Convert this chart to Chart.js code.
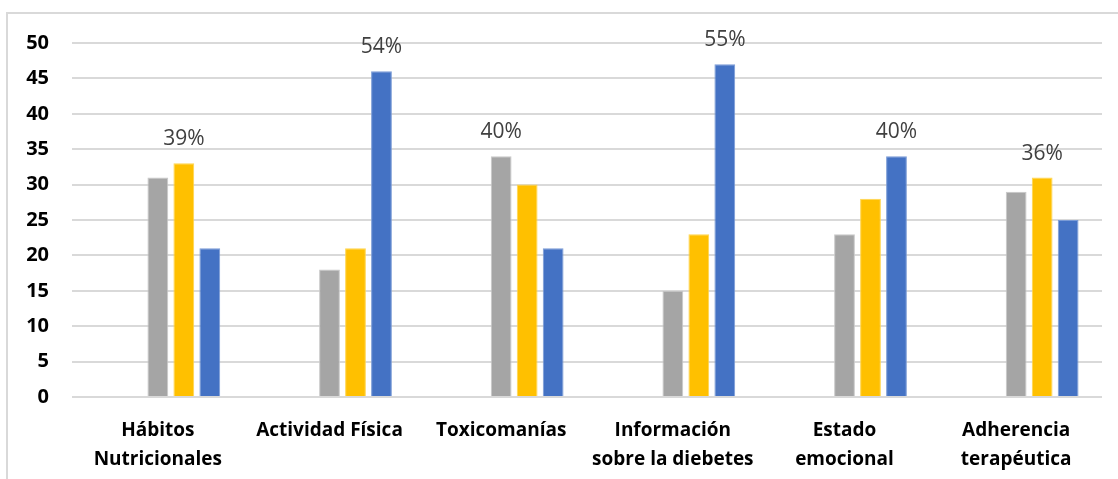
<!DOCTYPE html>
<html>
<head>
<meta charset="utf-8">
<script src="https://cdn.jsdelivr.net/npm/chart.js@4.4.1/dist/chart.umd.min.js"></script>
<style>
  html, body { margin: 0; padding: 0; background: #fff; }
  #wrap { position: relative; width: 1118px; height: 479px; }
  #frame {
    position: absolute; left: 6px; top: 12px; right: 0; bottom: 0;
    border-left: 2px solid #D9D9D9; border-top: 2px solid #D9D9D9;
  }
  canvas { position: absolute; left: 0; top: 0; }
</style>
</head>
<body>
<div id="wrap">
  <div id="frame"></div>
  <canvas id="chart" width="1118" height="479"></canvas>
</div>
<script>
// Categories (multi-line labels)
const categories = [
    ['Hábitos', 'Nutricionales'],
    'Actividad Física',
    'Toxicomanías',
    ['Información', 'sobre la diebetes'],
    ['Estado', 'emocional'],
    ['Adherencia', 'terapéutica']
];

// Series values
const seriesGray = [31, 18, 34, 15, 23, 29];
const seriesYellow = [33, 21, 30, 23, 28, 31];
const seriesBlue = [21, 46, 21, 47, 34, 25];
// Two empty series keep the visible bars in the right half of each group
const seriesEmpty = [0, 0, 0, 0, 0, 0];

// Percentage shown above the tallest bar of each category
const percentLabels = ['39%', '54%', '40%', '55%', '40%', '36%'];

const yTicks = [0, 5, 10, 15, 20, 25, 30, 35, 40, 45, 50];

// Draws the percentage above the highest bar in each group
const topLabelPlugin = {
    id: 'topLabel',
    afterDatasetsDraw(chart) {
        const ctx = chart.ctx;
        ctx.save();
        ctx.font = '21px "Open Sans"';
        ctx.fillStyle = '#404040';
        ctx.textAlign = 'center';
        ctx.textBaseline = 'alphabetic';
        categories.forEach((c, i) => {
            let best = -1, bestVal = -Infinity;
            chart.data.datasets.forEach((ds, d) => {
                if (ds.data[i] > bestVal) { bestVal = ds.data[i]; best = d; }
            });
            const bar = chart.getDatasetMeta(best).data[i];
            ctx.fillText(percentLabels[i], bar.x, bar.y - 18);
        });
        ctx.restore();
    }
};

const ctx = document.getElementById('chart').getContext('2d');
new Chart(ctx, {
    type: 'bar',
    data: {
        labels: categories,
        datasets: [
            { label: 'a', data: seriesEmpty, backgroundColor: 'transparent' },
            { label: 'b', data: seriesEmpty, backgroundColor: 'transparent' },
            { label: 'c', data: seriesGray, backgroundColor: '#A5A5A5', borderColor: '#C8C8C8', borderWidth: 1 },
            { label: 'd', data: seriesYellow, backgroundColor: '#FFC000', borderColor: '#FFD54D', borderWidth: 1 },
            { label: 'e', data: seriesBlue, backgroundColor: '#4472C4', borderColor: '#7A9BD6', borderWidth: 1 }
        ]
    },
    options: {
        responsive: false,
        animation: false,
        layout: {
            padding: { left: 0, right: 16, top: 43, bottom: 0 }
        },
        datasets: {
            bar: {
                categoryPercentage: 0.757,
                barPercentage: 0.8
            }
        },
        scales: {
            x: {
                grid: { display: false, drawTicks: false },
                border: { display: false },
                ticks: {
                    color: '#000',
                    padding: 19,
                    maxRotation: 0,
                    autoSkip: false,
                    font: { family: 'Open Sans', size: 19, weight: 'bold', lineHeight: 1.53 }
                },
                afterFit(scale) { scale.height = 82; }
            },
            y: {
                min: 0,
                max: 50,
                afterBuildTicks(scale) {
                    scale.ticks = yTicks.map(v => ({ value: v }));
                },
                grid: { color: '#D9D9D9', lineWidth: 2, drawTicks: false },
                border: { display: false },
                ticks: {
                    color: '#000',
                    padding: 23,
                    font: { family: 'Open Sans', size: 20, weight: 'bold' }
                },
                afterFit(scale) { scale.width = 72; }
            }
        },
        plugins: {
            legend: { display: false },
            tooltip: { enabled: false }
        }
    },
    plugins: [topLabelPlugin]
});
</script>
</body>
</html>
